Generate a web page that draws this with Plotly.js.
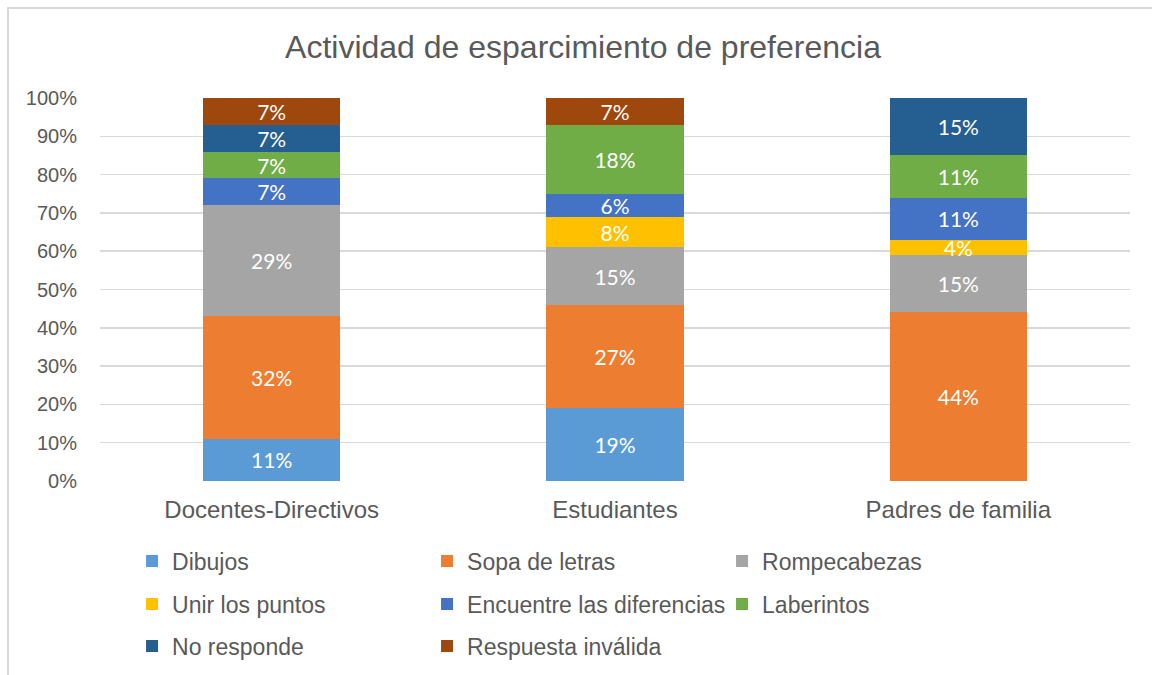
<!DOCTYPE html>
<html>
<head>
<meta charset="utf-8">
<script src="https://cdn.plot.ly/plotly-3.0.1.min.js"></script>
<style>
  html, body { margin: 0; padding: 0; background: #ffffff; }
  #wrap { position: relative; width: 1152px; height: 675px; overflow: hidden; }
  #chart { position: absolute; left: 0; top: 0; width: 1152px; height: 675px; }
  #frame { position: absolute; left: 7px; top: 7px; width: 1200px; height: 720px;
           border: 2px solid #d9d9d9; pointer-events: none; box-sizing: border-box; }
</style>
</head>
<body>
<div id="wrap">
  <div id="chart"></div>
  <div id="frame"></div>
</div>
<script>
// ---- Data ----
const categories = ["Docentes-Directivos", "Estudiantes", "Padres de familia"];
const seriesNames = ["Dibujos", "Sopa de letras", "Rompecabezas", "Unir los puntos",
                     "Encuentre las diferencias", "Laberintos", "No responde", "Respuesta inválida"];
const dibujos        = [11, 19, 0];
const sopaDeLetras   = [32, 27, 44];
const rompecabezas   = [29, 15, 15];
const unirLosPuntos  = [0, 8, 4];
const encuentre      = [7, 6, 11];
const laberintos     = [7, 18, 11];
const noResponde     = [7, 0, 15];
const respInvalida   = [7, 7, 0];
const yTickVals   = [0, 10, 20, 30, 40, 50, 60, 70, 80, 90, 100];
const yTickLabels = ["0%", "10%", "20%", "30%", "40%", "50%", "60%", "70%", "80%", "90%", "100%"];

// ---- Styles ----
const seriesValues = [dibujos, sopaDeLetras, rompecabezas, unirLosPuntos, encuentre, laberintos, noResponde, respInvalida];
const colors = ["#5B9BD5", "#ED7D31", "#A5A5A5", "#FFC000", "#4472C4", "#70AD47", "#255E91", "#9E480E"];
const legendIds = ["legend", "legend", "legend", "legend2", "legend2", "legend2", "legend3", "legend3"];

const traces = seriesNames.map((name, i) => ({
  type: "bar",
  name: name,
  x: categories,
  y: seriesValues[i],
  text: seriesValues[i].map(v => v > 0 ? v + "%" : ""),
  textposition: "inside",
  insidetextanchor: "middle",
  constraintext: "none",
  textangle: 0,
  textfont: { family: "Lato, 'Open Sans', sans-serif", size: 21, color: "#ffffff" },
  hoverinfo: "skip",
  marker: { color: colors[i], line: { width: 0 } },
  legend: legendIds[i]
}));

const textColor = "#595959";
const legendBase = {
  orientation: "h",
  x: 0.035 - 4 / 1030, xanchor: "left",
  yanchor: "middle",
  entrywidth: 250, entrywidthmode: "pixels",
  font: { family: "'Liberation Sans', Arial, sans-serif", size: 23, color: textColor },
  bgcolor: "rgba(0,0,0,0)",
  traceorder: "normal"
};

const layout = {
  width: 1152, height: 675,
  paper_bgcolor: "#ffffff", plot_bgcolor: "#ffffff",
  margin: { l: 100, r: 22, t: 98, b: 194, autoexpand: false },
  barmode: "stack",
  bargap: 0.6,
  title: {
    text: "Actividad de esparcimiento de preferencia",
    x: 583 / 1152, xanchor: "center", xref: "container",
    y: 1 - 47 / 675, yanchor: "middle", yref: "container",
    font: { family: "'Liberation Sans', Arial, sans-serif", size: 32, color: textColor }
  },
  xaxis: {
    type: "category",
    showgrid: false, showline: false, zeroline: false,
    ticks: "",
    ticklabelstandoff: 12,
    tickfont: { family: "'Liberation Sans', Arial, sans-serif", size: 24, color: textColor }
  },
  yaxis: {
    range: [0, 100],
    tickvals: yTickVals, ticktext: yTickLabels,
    showgrid: true, gridcolor: "#d9d9d9", gridwidth: 1.5,
    zeroline: false, showline: false, ticks: "",
    ticklabelstandoff: 22,
    tickfont: { family: "'Liberation Sans', Arial, sans-serif", size: 20, color: textColor }
  },
  legend: Object.assign({}, legendBase, { y: (481 - 561) / 383 }),
  legend2: Object.assign({}, legendBase, { y: (481 - 604) / 383 }),
  legend3: Object.assign({}, legendBase, { y: (481 - 646) / 383 }),
  showlegend: true
};

Plotly.newPlot("chart", traces, layout, { displayModeBar: false, staticPlot: true });
</script>
</body>
</html>
